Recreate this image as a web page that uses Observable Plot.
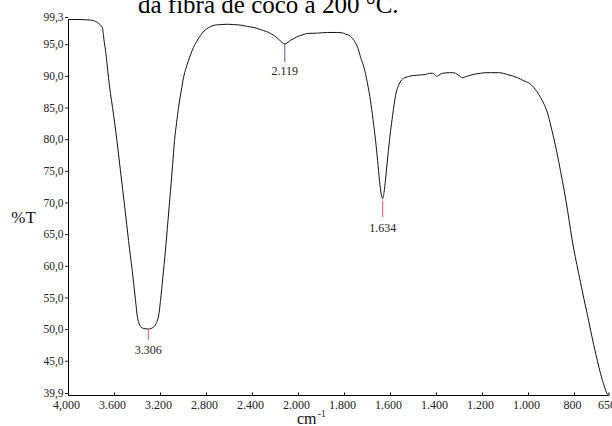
<!DOCTYPE html>
<html><head><meta charset="utf-8">
<script src="https://cdn.jsdelivr.net/npm/d3@7"></script>
<script src="https://cdn.jsdelivr.net/npm/@observablehq/plot@0.6"></script>
<style>
html,body{margin:0;padding:0;background:#fff;}
#wrap{width:612px;height:426px;overflow:hidden;position:relative;background:#fff;}
#title{height:8px;overflow:visible;position:relative;}
#title span{position:absolute;left:138px;top:-8.4px;font:25px/25px "Liberation Serif",serif;white-space:nowrap;color:#000;}
#chart{position:relative;}
</style></head><body>
<div id="wrap"><div id="title"><span>da fibra de coco a 200 °C.</span></div><div id="chart"></div></div>
<script>
// Spectrum (wavenumber cm-1, %T)
const wavenumber = [4000,3950,3900,3850,3800,3765,3740,3720,3704,3696,3688,3678,3665,3652,3635,3617,3580,3548,3510,3478,3445,3417,3400,3385,3374,3348,3306,3261,3240,3226,3212,3200,3180,3157,3135,3113,3095,3078,3060,3043,3020,3000,2978,2957,2935,2913,2880,2852,2820,2783,2730,2678,2620,2565,2500,2443,2380,2330,2280,2243,2200,2174,2150,2130,2119,2100,2070,2040,2009,1980,1961,1917,1874,1830,1810,1796,1780,1765,1752,1743,1735,1730,1720,1709,1698,1687,1676,1665,1656,1648,1640,1634,1628,1622,1615,1609,1600,1591,1578,1565,1555,1543,1522,1500,1483,1465,1448,1430,1417,1408,1400,1390,1374,1343,1330,1317,1300,1287,1270,1252,1230,1209,1185,1165,1130,1110,1091,1070,1048,1035,1026,1013,995,978,963,948,932,917,905,891,876,861,845,830,817,804,790,774,758,743,730,717,700,687,670,657,650];
const transmittance = [99.3,99.3,99.3,99.25,99.2,99.0,98.7,98.4,97.9,96.8,95.6,94.4,92.3,90.1,87.6,85.4,80.3,75.4,69.5,64.4,59.5,54.9,52.2,51.2,50.8,50.5,50.4,50.7,51.2,51.8,53.0,54.9,58.5,62.8,67.5,72.3,76.2,80.2,83.0,85.4,88.0,90.1,91.6,92.8,93.9,94.9,96.0,96.8,97.5,98.0,98.4,98.5,98.55,98.5,98.4,98.2,98.0,97.7,97.4,97.1,96.6,96.2,95.8,95.5,95.4,95.6,96.0,96.3,96.6,96.9,97.1,97.15,97.25,97.25,97.2,97.0,96.8,96.3,95.6,94.9,94.0,93.3,92.3,90.8,88.8,86.5,83.5,80.2,77.0,73.9,71.6,71.0,72.0,73.9,76.5,78.6,81.6,84.1,87.3,88.9,89.6,90.0,90.3,90.45,90.5,90.55,90.6,90.8,90.8,90.6,90.3,90.5,90.8,90.9,90.9,90.8,90.4,90.1,90.3,90.5,90.7,90.8,90.9,90.9,90.9,90.8,90.6,90.4,90.1,89.9,89.7,89.5,89.2,88.6,87.9,87.0,85.9,84.5,82.8,80.7,78.2,75.4,72.3,69.1,66.0,63.2,60.6,57.8,55.0,52.5,50.2,48.0,45.3,43.4,41.3,40.1,39.9];

// Peak annotations
const peakWavenumber = [3306, 2119, 1634];
const peakLabel = ["3.306", "2.119", "1.634"];
const peakLineTop = [50.2, 95.5, 70.6];
const peakLineBottom = [48.6, 92.5, 68.0];
const peakLabelT = [47.0, 91.2, 66.3];
const peakColor = ["#e0505a", "#5a58a8", "#e0506a"];

// Axis ticks
const xTicks = [4000,3600,3200,2800,2400,2000,1800,1600,1400,1200,1000,800,650];
const xBreaks = [4000, 2000, 650];
const yTicks = [39.9,45,50,55,60,65,70,75,80,85,90,95,99.3];
const yDomain = [39.9, 99.3];

const spectrum = wavenumber.map((w, i) => ({w, t: transmittance[i]}));
const peaks = peakWavenumber.map((w, i) => ({w, label: peakLabel[i], top: peakLineTop[i], bottom: peakLineBottom[i], lt: peakLabelT[i], color: peakColor[i]}));

const fmtX = d => d === 4000 ? "4,000" : d3.format(",")(d).replace(",", ".");
const fmtY = d => d.toFixed(1).replace(".", ",");

const chart = Plot.plot({
  width: 612,
  height: 418,
  marginTop: 11,
  marginBottom: 31,
  marginLeft: 68,
  marginRight: 3.5,
  style: {fontFamily: '"Liberation Serif", serif', fontSize: "12px", color: "#222", background: "transparent"},
  x: {type: "linear", domain: xBreaks, range: [68, 298, 608.5]},
  y: {type: "linear", domain: yDomain},
  marks: [
    Plot.ruleY([yDomain[0]], {stroke: "#000", strokeWidth: 1}),
    Plot.ruleX([xBreaks[0]], {y1: yDomain[0], y2: yDomain[1], stroke: "#000", strokeWidth: 1}),
    Plot.ruleX(xTicks, {x: d => d, y1: yDomain[0], y2: yDomain[0] + 0.4, stroke: "#000"}),
    Plot.axisX(xTicks, {tickFormat: fmtX, tickSize: 0, tickPadding: 5, fontSize: 12, dx: -2, label: null}),
    Plot.axisY(yTicks, {tickFormat: fmtY, tickSize: 3, tickPadding: 2, fontSize: 11.5, dy: -2, label: null}),
    Plot.line(spectrum, {x: "w", y: "t", stroke: "#111", strokeWidth: 1, curve: "monotone-x"}),
    Plot.ruleX(peaks, {x: "w", y1: "bottom", y2: "top", stroke: d => d.color, strokeWidth: 1}),
    Plot.text(peaks, {x: "w", y: "lt", text: "label", fontSize: 12, fill: "#222"}),
    Plot.text(["%T"], {frameAnchor: "left", dx: -45, dy: 10, fontSize: 17, fill: "#111", textAnchor: "middle"}),
    Plot.text(["cm"], {frameAnchor: "bottom", dx: -32, dy: 28, fontSize: 16, fill: "#111", textAnchor: "middle"}),
    Plot.text(["-1"], {frameAnchor: "bottom", dx: -21, dy: 21, fontSize: 9.5, fill: "#111", textAnchor: "start"})
  ]
});
document.getElementById("chart").appendChild(chart);
</script>
</body></html>
